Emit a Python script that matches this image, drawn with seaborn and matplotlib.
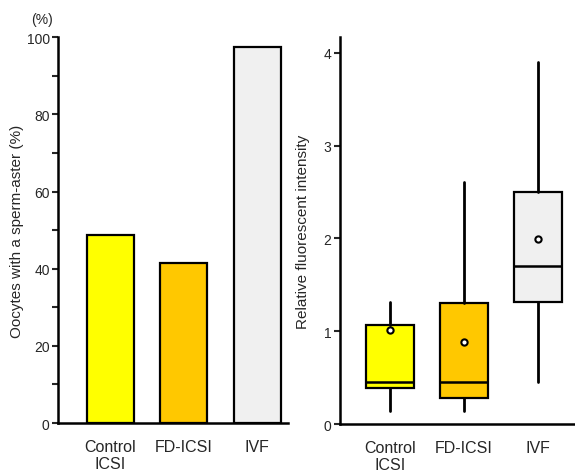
import matplotlib
matplotlib.use("Agg")
import matplotlib.pyplot as plt
import seaborn as sns
import pandas as pd

# groups and colours
groups = ["Control\nICSI", "FD-ICSI", "IVF"]
colors = ["#FFFF00", "#FFC800", "#F0F0F0"]

# left panel: % oocytes with a sperm-aster
aster_pct = [48.7, 41.4, 97.4]

# right panel: relative fluorescent intensity (box summary)
whisk_lo = [0.14, 0.14, 0.45]
q1 = [0.39, 0.28, 1.32]
median = [0.45, 0.45, 1.70]
q3 = [1.07, 1.30, 2.50]
whisk_hi = [1.32, 2.61, 3.90]
means = [1.01, 0.88, 1.99]

sns.set_style("white")
plt.rcParams['font.family'] = ['Liberation Sans', 'DejaVu Sans']

fig = plt.figure(figsize=(5.75, 4.77), dpi=100)
ax1 = fig.add_axes([0.101, 0.111, 0.400, 0.809])
ax2 = fig.add_axes([0.591, 0.109, 0.409, 0.811])

df = pd.DataFrame({"group": groups, "pct": aster_pct})
sns.barplot(data=df, x="group", y="pct", hue="group", palette=colors,
            legend=False, width=0.64, edgecolor="black", linewidth=1.6,
            saturation=1, ax=ax1)
ax1.set_xlim(-0.71, 2.42)
ax1.set_ylim(0, 100)
ax1.set_yticks([0, 20, 40, 60, 80, 100])
ax1.set_yticks(range(10, 100, 20), minor=True)
ax1.set_xlabel("")
ax1.set_ylabel("Oocytes with a sperm-aster (%)", fontsize=11, labelpad=2)
ax1.text(-0.07, 1.028, "(%)", transform=ax1.transAxes, fontsize=10,
         ha="center", va="bottom")

stats = []
for i in range(len(groups)):
    stats.append({"whislo": whisk_lo[i], "q1": q1[i], "med": median[i],
                  "q3": q3[i], "whishi": whisk_hi[i], "mean": means[i],
                  "fliers": []})
bp = ax2.bxp(stats, positions=range(len(groups)), widths=0.64,
             patch_artist=True, showmeans=True, showcaps=False,
             boxprops=dict(edgecolor="black", linewidth=1.6),
             medianprops=dict(color="black", linewidth=1.8),
             whiskerprops=dict(color="black", linewidth=2),
             meanprops=dict(marker="o", markerfacecolor="white",
                            markeredgecolor="black", markersize=4.5,
                            markeredgewidth=1.5))
for patch, c in zip(bp["boxes"], colors):
    patch.set_facecolor(c)
ax2.set_xlim(-0.68, 2.5)
ax2.set_ylim(0, 4.17)
ax2.set_yticks([0, 1, 2, 3, 4])
ax2.set_xticks(range(len(groups)))
ax2.set_xticklabels(groups)
ax2.set_ylabel("Relative fluorescent intensity", fontsize=11, labelpad=10)

for ax in (ax1, ax2):
    for s in ["top", "right"]:
        ax.spines[s].set_visible(False)
    for s in ["left", "bottom"]:
        ax.spines[s].set_linewidth(1.8)
        ax.spines[s].set_color("black")
    ax.tick_params(axis="y", which="major", left=True, length=4, width=1.5,
                   labelsize=10, pad=2)
    ax.tick_params(axis="y", which="minor", left=True, length=4, width=1.5)
    ax.tick_params(axis="x", bottom=False, labelsize=11.5, pad=8)

fig.savefig("out.png", dpi=100)
